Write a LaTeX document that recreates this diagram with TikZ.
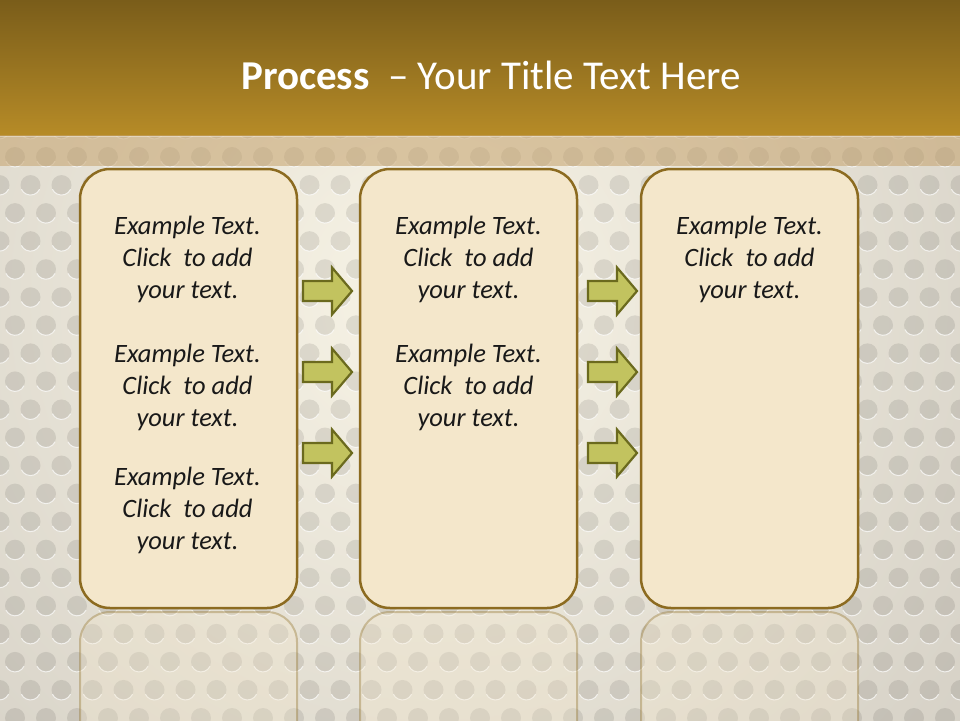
\documentclass[tikz,border=0pt]{standalone}
\usepackage{fontspec}
\setmainfont{Carlito}
\usetikzlibrary{calc}
\definecolor{hdtop}{HTML}{7A5D1A}
\definecolor{hdbot}{HTML}{B68B27}
\definecolor{bglight}{HTML}{F8F4E6}
\definecolor{bgdark}{HTML}{CFCAC0}
\definecolor{boxfill}{HTML}{F4E7CB}
\definecolor{boxline}{HTML}{8C6B20}
\definecolor{arrfill}{HTML}{C2C35F}
\definecolor{arrline}{HTML}{6B6A1E}
\definecolor{stripcol}{HTML}{C5A26C}
\newcommand\exampletext{Example Text.\\Click\ \ to add\\your text.}
\begin{document}
\begin{tikzpicture}[x=1pt,y=-1pt,
  panel/.style={draw=boxline, line width=2.5pt, fill=boxfill, rounded corners=30pt,
    minimum width=217pt, minimum height=439pt, inner sep=0pt},
  mirror/.style={draw=boxline, draw opacity=0.35, line width=2pt, fill=boxfill,
    fill opacity=0.3, rounded corners=30pt},
  bodytext/.style={font=\fontsize{26.5}{32}\selectfont\itshape, align=center,
    text=black!90, inner sep=0pt},
  blockarrow/.style={draw=arrline, line width=2.2pt, fill=arrfill, line join=miter},
  dot/.style={fill=black, fill opacity=0.09},
  dothl/.style={draw=white, draw opacity=0.7, line width=1pt}
]
\useasboundingbox (0,0) rectangle (960,720);
\begin{scope}
\clip (0,0) rectangle (960,720);
% background
\shade[inner color=bglight, outer color=bgdark] (430,300) circle (820);
% perforation dots
\foreach \k in {-1,...,20}{
  \pgfmathsetmacro\yy{157+28.05*\k}
  \pgfmathsetmacro\xo{isodd(\k)?30.5:15}
  \foreach \m in {-1,...,31}{
    \pgfmathsetmacro\xx{\xo+31*\m}
    \fill[dot] (\xx,\yy) circle (10);
    \draw[dothl] ($(\xx,\yy)+(25:10)$) arc[start angle=25, end angle=155, radius=10];
  }
}
% header
\shade[top color=hdtop, bottom color=hdbot] (0,0) rectangle (960,135);
\fill[stripcol, opacity=0.55] (0,135) rectangle (960,166);
\draw[white, opacity=0.35, line width=1pt] (0,136) -- (960,136);
% reflections
\foreach \xa in {80,360,641}{
  \draw[mirror] (\xa,612) rectangle ++(217,160);
}
\end{scope}

% title
\node[font=\fontsize{41}{44}\selectfont, text=white, inner sep=0pt] (title) at (491,75)
  {\textbf{Process}\ \ – Your Title Text Here};

% panels
\node[panel] (b1) at (188.5,388.5) {};
\node[panel] (b2) at (468.5,388.5) {};
\node[panel] (b3) at (749.5,388.5) {};

% texts
\foreach \n/\x/\y in {t11/187.5/259, t12/187.5/387, t13/187.5/510,
                      t21/468.5/259, t22/468.5/387, t31/749.5/259}{
  \node[bodytext] (\n) at (\x,\y) {\exampletext};
}

% block arrows
\foreach \n/\x/\y in {a1/303/291, a2/303/372, a3/303/453,
                      a4/588/291, a5/588/372, a6/588/453}{
  \draw[blockarrow] (\x,\y-10) -- (\x+29,\y-10) -- (\x+29,\y-23.5) -- (\x+49,\y)
     -- (\x+29,\y+23.5) -- (\x+29,\y+10) -- (\x,\y+10) -- cycle;
  \coordinate (\n) at (\x+24,\y);
}
\end{tikzpicture}
\end{document}
